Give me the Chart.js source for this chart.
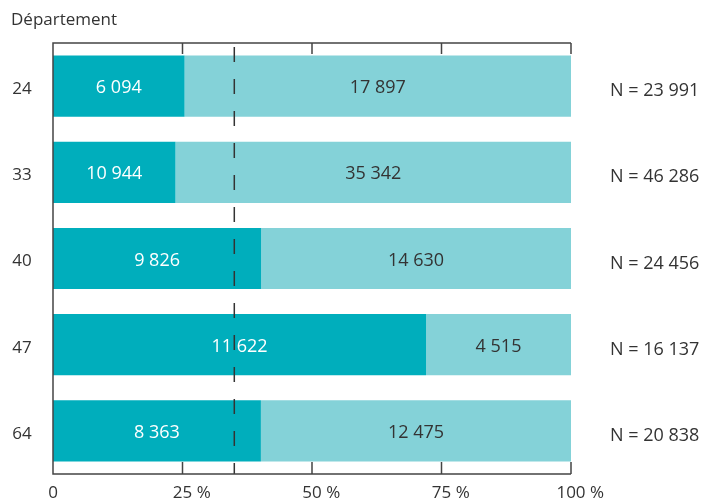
<!DOCTYPE html>
<html>
<head>
<meta charset="utf-8">
<script src="https://cdn.jsdelivr.net/npm/chart.js@4/dist/chart.umd.min.js"></script>
<style>
  body { margin: 0; background: #fff; }
  canvas { display: block; }
</style>
</head>
<body>
<canvas id="depchart" width="707" height="503"></canvas>
<script>
'use strict';

// departements and counts
var departements = ['24', '33', '40', '47', '64'];
var countDark = [6094, 10944, 9826, 11622, 8363];
var countLight = [17897, 35342, 14630, 4515, 12475];
var tickValues = [0, 25, 50, 75, 100];
var refLine = 35;

var darkColor = '#00aebc';
var lightColor = '#84d2d8';
var textColor = '#333333';
var fontName = '"Open Sans", "Noto Sans", sans-serif';

function fmt(n) {
  return String(n).replace(/\B(?=(\d{3})+(?!\d))/g, ' ');
}

var totals = [];
var pctDark = [];
var pctLight = [];
for (var i = 0; i < departements.length; i++) {
  totals.push(countDark[i] + countLight[i]);
  pctDark.push(countDark[i] / totals[i] * 100);
  pctLight.push(countLight[i] / totals[i] * 100);
}

// frame, ticks, dashed line and all the texts
var decorPlugin = {
  id: 'decor',
  afterDatasetsDraw: function(chart) {
    var ctx = chart.ctx;
    var xs = chart.scales.x;
    var ys = chart.scales.y;
    var area = chart.chartArea;

    ctx.save();
    // value labels inside bars
    ctx.font = '18px ' + fontName;
    ctx.textAlign = 'center';
    ctx.textBaseline = 'middle';
    var counts = [countDark, countLight];
    chart.data.datasets.forEach(function(ds, d) {
      var meta = chart.getDatasetMeta(d);
      meta.data.forEach(function(bar, j) {
        var p = bar.getProps(['x', 'y', 'base'], true);
        ctx.fillStyle = d === 0 ? '#ffffff' : textColor;
        ctx.fillText(fmt(counts[d][j]), (p.x + p.base) / 2, p.y + 2);
      });
    });

    // dashed reference line
    var rx = xs.getPixelForValue(refLine);
    ctx.strokeStyle = '#333';
    ctx.lineWidth = 1.5;
    ctx.setLineDash([15, 17]);
    ctx.beginPath();
    ctx.moveTo(rx, area.top + 4);
    ctx.lineTo(rx, area.bottom);
    ctx.stroke();
    ctx.setLineDash([]);

    // frame
    ctx.strokeStyle = '#444';
    ctx.lineWidth = 1.5;
    ctx.beginPath();
    ctx.moveTo(area.right, area.top);
    ctx.lineTo(area.left, area.top);
    ctx.lineTo(area.left, area.bottom);
    ctx.lineTo(area.right, area.bottom);
    ctx.stroke();

    // ticks top and bottom
    ctx.beginPath();
    xs.ticks.forEach(function(t) {
      if (t.value === 0) return;
      var px = xs.getPixelForValue(t.value);
      ctx.moveTo(px, area.top);
      ctx.lineTo(px, area.top + 11);
      ctx.moveTo(px, area.bottom);
      ctx.lineTo(px, area.bottom - 12);
    });
    ctx.stroke();

    // x tick labels: number centred on tick, % appended
    ctx.fillStyle = textColor;
    ctx.font = '17px ' + fontName;
    ctx.textAlign = 'left';
    ctx.textBaseline = 'alphabetic';
    xs.ticks.forEach(function(t) {
      var px = xs.getPixelForValue(t.value);
      var num = String(t.value);
      var w = ctx.measureText(num).width;
      var label = t.value === 0 ? num : num + ' %';
      ctx.fillText(label, px - w / 2, area.bottom + 24);
    });

    // departement labels and totals
    ctx.font = '17px ' + fontName;
    ctx.textBaseline = 'middle';
    departements.forEach(function(dep, j) {
      var py = ys.getPixelForValue(j);
      ctx.textAlign = 'center';
      ctx.fillText(dep, 22, py + 3);
    });
    ctx.font = '18px ' + fontName;
    ctx.textAlign = 'left';
    departements.forEach(function(dep, j) {
      var py = ys.getPixelForValue(j);
      ctx.fillText('N = ' + fmt(totals[j]), 610, py + 5);
    });

    // axis title
    ctx.font = '17px ' + fontName;
    ctx.fillText('Département', 11, 20);
    ctx.restore();
  }
};

var ctx = document.getElementById('depchart').getContext('2d');
var chart = new Chart(ctx, {
  type: 'bar',
  data: {
    labels: departements,
    datasets: [{
      data: pctDark,
      backgroundColor: darkColor,
      borderWidth: 0
    }, {
      data: pctLight,
      backgroundColor: lightColor,
      borderWidth: 0
    }]
  },
  options: {
    indexAxis: 'y',
    responsive: false,
    animation: false,
    layout: { padding: { left: 45, right: 136, top: 43, bottom: 21 } },
    categoryPercentage: 1,
    barPercentage: 0.71,
    plugins: {
      legend: { display: false },
      tooltip: { enabled: false }
    },
    scales: {
      x: {
        stacked: true,
        min: 0,
        max: 100,
        afterBuildTicks: function(scale) {
          scale.ticks = tickValues.map(function(v) { return { value: v }; });
        },
        ticks: { display: false },
        grid: { display: false },
        border: { display: false }
      },
      y: {
        stacked: true,
        ticks: { display: false },
        grid: { display: false },
        border: { display: false }
      }
    }
  },
  plugins: [decorPlugin]
});
</script>
</body>
</html>
